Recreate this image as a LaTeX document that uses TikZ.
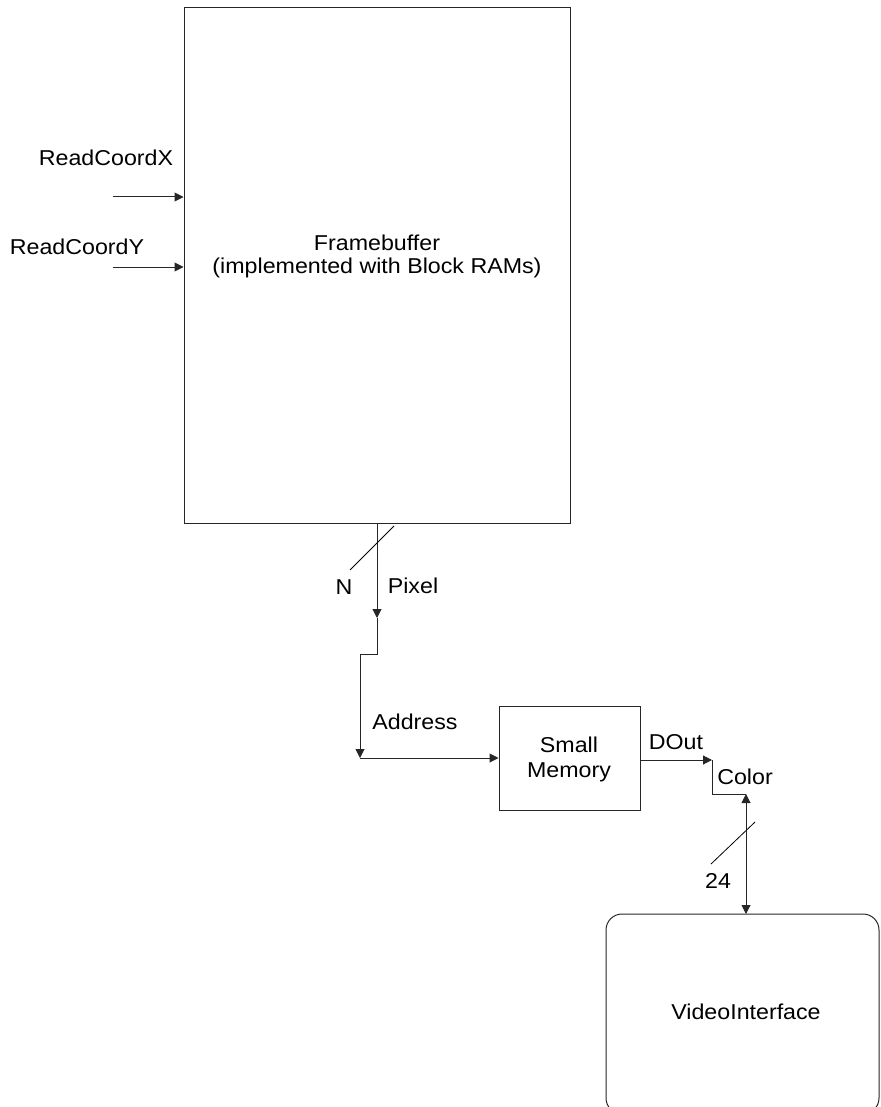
\documentclass[tikz,border=0pt]{standalone}
\usepackage{fontspec}
\setmainfont{Liberation Sans}
\usetikzlibrary{arrows.meta}
\newcommand\wtxt[1]{\scalebox{1.08}[1]{#1}}
\begin{document}
\begin{tikzpicture}[x=1pt,y=-1pt,
  wire/.style={line width=1pt,draw=black!85},
  tip/.style={-{Triangle[length=9pt,width=9pt]}},
  lab/.style={inner sep=0pt,font=\fontsize{21.5}{25}\selectfont},
  blk/.style={draw=black!85,line width=1pt,inner sep=0pt}]
\useasboundingbox (0,0) rectangle (880,1107);
\clip (0,0) rectangle (880,1107);
% Framebuffer
\node[blk,minimum width=386pt,minimum height=515pt] (fb) at (377,265.5) {};
\node[lab] (fbt1) at (377,243) {\wtxt{Framebuffer}};
\node[lab] (fbt2) at (377,268) {\wtxt{(implemented with Block RAMs)}};
% inputs
\coordinate (xin) at (113,197);
\coordinate (yin) at (113,267);
\draw[wire,tip] (xin) -- (xin -| fb.west);
\draw[wire,tip] (yin) -- (yin -| fb.west);
\node[lab] (rx) at (106,158) {\wtxt{ReadCoordX}};
\node[lab] (ry) at (77,247) {\wtxt{ReadCoordY}};
% pixel path
\coordinate (p0) at (377,523);
\coordinate (p1) at (377,618);
\coordinate (p2) at (377,654);
\coordinate (p3) at (360,654);
\coordinate (p4) at (360,758);
\draw[wire,tip] (p0) -- (p1);
\draw[wire,tip] (p1) -- (p2) -- (p3) -- (p4);
\coordinate (s1a) at (350,570);
\coordinate (s1b) at (394,526);
\draw[line width=0.8pt] (s1a) -- (s1b);
\node[lab] (nl) at (344,587) {\wtxt{N}};
\node[lab] (pl) at (413,586) {\wtxt{Pixel}};
% Small memory
\node[blk,minimum width=141pt,minimum height=104pt] (sm) at (569.5,758) {};
\node[lab] (smt1) at (569,745) {\wtxt{Small}};
\node[lab] (smt2) at (569,772) {\wtxt{Memory}};
\draw[wire,tip] (p4) -- (p4 -| sm.west);
\node[lab] (al) at (415,722) {\wtxt{Address}};
% DOut / Color
\coordinate (d1) at (712,760);
\coordinate (d2) at (712,794);
\coordinate (d3) at (746,794);
\draw[wire,tip] (sm.east |- d1) -- (d1);
\draw[wire] (d1) -- (d2) -- (d3);
\node[lab] (dl) at (676,742) {\wtxt{DOut}};
\node[lab] (cl) at (745,777) {\wtxt{Color}};
% VideoInterface
\draw[blk,rounded corners=16pt] (606,914) rectangle (879,1114);
\coordinate (vi) at (746,914);
\node[lab] (vt) at (746,1012) {\wtxt{VideoInterface}};
\draw[wire,{Triangle[length=9pt,width=9pt]}-{Triangle[length=9pt,width=9pt]}] (d3) -- (vi);
\coordinate (s2a) at (711,864);
\coordinate (s2b) at (755,822);
\draw[line width=0.8pt] (s2a) -- (s2b);
\node[lab] (tl) at (718,881) {\wtxt{24}};
\end{tikzpicture}
\end{document}
